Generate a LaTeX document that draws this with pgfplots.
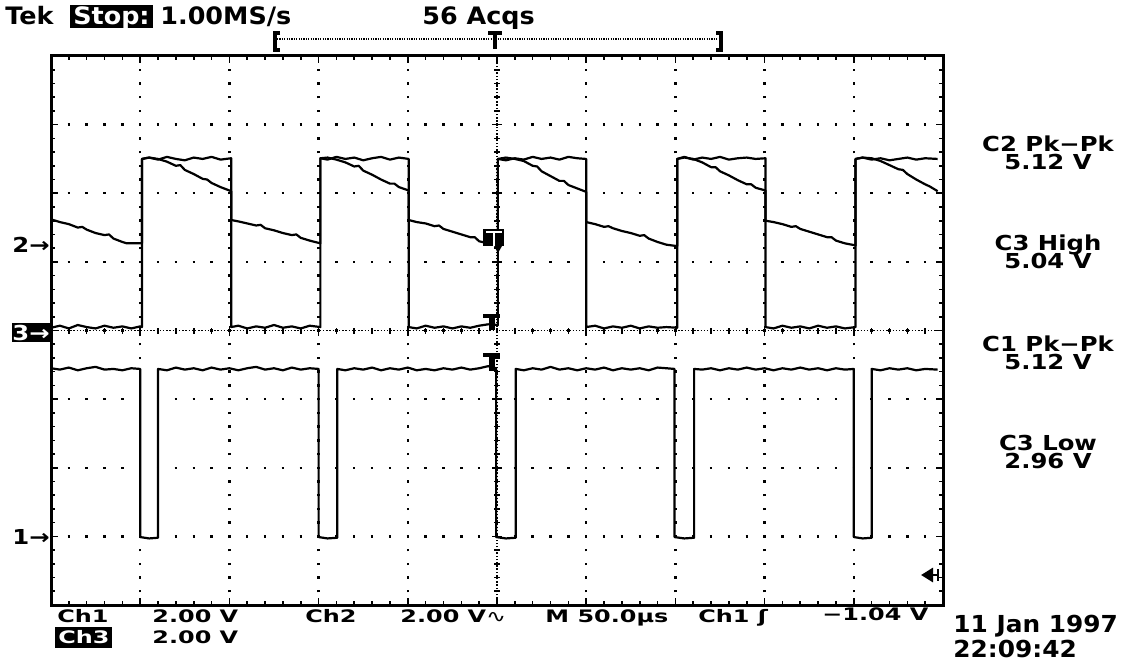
\documentclass[border=0pt]{standalone}
\usepackage{pgfplots}
\pgfplotsset{compat=1.18}
\usepackage{fontspec}
\setmainfont{DejaVu Sans}
\newfontfamily\fbot{DejaVu Sans}[FakeStretch=1.39]
\newfontfamily\fright{DejaVu Sans}[FakeStretch=1.18]
\newfontfamily\fdate{DejaVu Sans}[FakeStretch=1.06]
\newfontfamily\ftop{DejaVu Sans}[FakeStretch=1.06]
\newcommand\TT{\ftop\fontsize{12}{14}\selectfont\bfseries}
\newcommand\RT{\fright\fontsize{10.3}{12}\selectfont\bfseries}
\newcommand\BT{\fbot\fontsize{8.6}{10}\selectfont\bfseries}
\newcommand\DT{\fdate\fontsize{11.7}{13}\selectfont\bfseries}
\usetikzlibrary{arrows.meta}
\pgfplotsset{trace/.style={black, line width=1.1pt, line join=round, mark=none}}
\begin{document}
\begin{tikzpicture}
\useasboundingbox (-25.5pt,-30pt) rectangle (539pt,302.5pt);
\begin{axis}[
  scale only axis, width=446pt, height=274.5pt,
  xmin=0, xmax=10, ymin=-4, ymax=4,
  xtick={0,...,10}, ytick={-4,...,4},
  minor x tick num=4, minor y tick num=4,
  xticklabels={}, yticklabels={},
  tick align=inside, major tick length=3.5pt, minor tick length=2pt,
  every tick/.style={black, line width=0.8pt},
  grid=major,
  x grid style={black, line width=1.2pt, dash pattern=on 1.2pt off 5.6625pt, dash phase=0.6pt},
  y grid style={black, line width=1.2pt, dash pattern=on 1.2pt off 7.72pt, dash phase=0.6pt},
  axis line style={line width=1.5pt},
]
% Channel 3
\addplot[trace] coordinates {
(0,0.04)(0.1,0.07)(0.2,0.03)(0.3,0.08)(0.4,0.05)(0.5,0.03)(0.6,0.07)(0.7,0.04)(0.8,0.06)(0.9,0.03)(1.0,0.06)(1.02,0.05)
(1.02,2.50)(1.1,2.52)(1.2,2.49)(1.3,2.53)(1.4,2.50)(1.5,2.48)(1.6,2.52)(1.7,2.50)(1.8,2.53)(1.9,2.49)(2.02,2.51)
(2.02,0.05)(2.1,0.07)(2.2,0.03)(2.3,0.06)(2.4,0.04)(2.5,0.08)(2.6,0.04)(2.7,0.06)(2.8,0.03)(2.9,0.07)(3.02,0.05)
(3.02,2.51)(3.1,2.49)(3.2,2.53)(3.3,2.50)(3.4,2.52)(3.5,2.48)(3.6,2.51)(3.7,2.53)(3.8,2.49)(3.9,2.52)(4.01,2.50)
(4.01,0.05)(4.1,0.03)(4.2,0.07)(4.3,0.04)(4.4,0.06)(4.5,0.03)(4.6,0.06)(4.7,0.04)(4.8,0.07)(4.9,0.09)(5.01,0.08)
(5.01,2.50)(5.1,2.48)(5.2,2.51)(5.3,2.49)(5.4,2.53)(5.5,2.50)(5.6,2.52)(5.7,2.49)(5.8,2.53)(5.9,2.51)(6.0,2.50)
(6.0,0.05)(6.1,0.07)(6.2,0.03)(6.3,0.06)(6.4,0.04)(6.5,0.07)(6.6,0.03)(6.7,0.06)(6.8,0.04)(6.9,0.05)(7.02,0.04)
(7.02,2.50)(7.1,2.53)(7.2,2.49)(7.3,2.52)(7.4,2.50)(7.5,2.53)(7.6,2.49)(7.7,2.51)(7.8,2.52)(7.9,2.50)(8.01,2.51)
(8.01,0.05)(8.1,0.03)(8.2,0.07)(8.3,0.04)(8.4,0.06)(8.5,0.03)(8.6,0.07)(8.7,0.04)(8.8,0.06)(8.9,0.03)(9.02,0.05)
(9.02,2.50)(9.1,2.52)(9.2,2.49)(9.3,2.51)(9.4,2.48)(9.5,2.50)(9.6,2.52)(9.7,2.49)(9.8,2.51)(9.94,2.50)
};
% Channel 2
\addplot[trace] coordinates {
(0,1.62)(0.05,1.60)(0.1,1.58)(0.2,1.55)(0.3,1.50)(0.35,1.51)(0.4,1.47)(0.5,1.42)(0.6,1.39)(0.65,1.40)(0.7,1.34)(0.8,1.29)(0.85,1.27)(1.02,1.27)
(1.02,2.50)(1.1,2.52)(1.2,2.50)(1.3,2.46)(1.4,2.40)(1.45,2.41)(1.5,2.34)(1.6,2.28)(1.7,2.21)(1.75,2.20)(1.8,2.15)(1.9,2.09)(2.02,2.03)
(2.02,1.61)(2.1,1.59)(2.2,1.56)(2.3,1.53)(2.35,1.54)(2.4,1.49)(2.5,1.46)(2.6,1.42)(2.7,1.39)(2.75,1.40)(2.8,1.35)(2.9,1.31)(3.02,1.27)
(3.02,2.51)(3.1,2.52)(3.2,2.49)(3.3,2.45)(3.4,2.39)(3.45,2.40)(3.5,2.33)(3.6,2.27)(3.7,2.20)(3.8,2.14)(3.85,2.14)(3.9,2.09)(4.01,2.04)
(4.01,1.61)(4.1,1.58)(4.2,1.56)(4.3,1.52)(4.35,1.53)(4.4,1.48)(4.5,1.44)(4.6,1.40)(4.7,1.36)(4.75,1.36)(4.8,1.30)(4.9,1.27)(5.01,1.26)
(5.01,2.50)(5.1,2.52)(5.2,2.50)(5.3,2.47)(5.4,2.40)(5.45,2.39)(5.5,2.32)(5.6,2.25)(5.7,2.18)(5.75,2.18)(5.8,2.12)(5.9,2.07)(6.0,2.02)
(6.0,1.58)(6.1,1.55)(6.2,1.51)(6.25,1.52)(6.3,1.49)(6.4,1.45)(6.5,1.42)(6.6,1.38)(6.65,1.39)(6.7,1.34)(6.8,1.29)(6.9,1.25)(7.02,1.23)
(7.02,2.50)(7.1,2.52)(7.2,2.50)(7.3,2.45)(7.4,2.38)(7.45,2.38)(7.5,2.32)(7.6,2.26)(7.7,2.19)(7.8,2.13)(7.85,2.13)(7.9,2.08)(8.01,2.04)
(8.01,1.60)(8.1,1.58)(8.2,1.55)(8.3,1.51)(8.35,1.52)(8.4,1.48)(8.5,1.44)(8.6,1.40)(8.7,1.36)(8.75,1.36)(8.8,1.31)(8.9,1.27)(9.02,1.24)
(9.02,2.50)(9.1,2.52)(9.2,2.51)(9.3,2.47)(9.4,2.41)(9.5,2.35)(9.55,2.34)(9.6,2.28)(9.7,2.20)(9.8,2.13)(9.85,2.10)(9.94,2.03)
};
% Channel 1
\addplot[trace] coordinates {
(0,-0.55)(0.1,-0.57)(0.2,-0.54)(0.3,-0.58)(0.4,-0.55)(0.5,-0.53)(0.6,-0.57)(0.7,-0.56)(0.8,-0.58)(0.9,-0.55)(1.0,-0.56)
(1.0,-3.01)(1.1,-3.03)(1.2,-3.02)
(1.2,-0.56)(1.3,-0.58)(1.4,-0.54)(1.5,-0.57)(1.6,-0.55)(1.7,-0.58)(1.8,-0.54)(1.9,-0.57)(2.0,-0.55)(2.1,-0.58)(2.2,-0.55)(2.3,-0.53)(2.4,-0.57)(2.5,-0.55)(2.6,-0.58)(2.7,-0.54)(2.8,-0.57)(2.9,-0.55)(3.0,-0.56)
(3.0,-3.01)(3.1,-3.03)(3.21,-3.02)
(3.21,-0.56)(3.3,-0.58)(3.4,-0.55)(3.5,-0.57)(3.6,-0.54)(3.7,-0.58)(3.8,-0.55)(3.9,-0.57)(4.0,-0.54)(4.1,-0.58)(4.2,-0.56)(4.3,-0.58)(4.4,-0.55)(4.5,-0.57)(4.6,-0.54)(4.7,-0.57)(4.8,-0.55)(4.9,-0.52)(4.99,-0.55)
(4.99,-3.01)(5.1,-3.03)(5.21,-3.02)
(5.21,-0.56)(5.3,-0.58)(5.4,-0.55)(5.5,-0.57)(5.6,-0.53)(5.7,-0.57)(5.8,-0.55)(5.9,-0.58)(6.0,-0.55)(6.1,-0.57)(6.2,-0.54)(6.3,-0.58)(6.4,-0.55)(6.5,-0.57)(6.6,-0.55)(6.7,-0.58)(6.8,-0.54)(6.9,-0.55)(6.99,-0.56)
(6.99,-3.01)(7.1,-3.03)(7.21,-3.02)
(7.21,-0.56)(7.3,-0.57)(7.4,-0.55)(7.5,-0.58)(7.6,-0.55)(7.7,-0.57)(7.8,-0.54)(7.9,-0.57)(8.0,-0.55)(8.1,-0.58)(8.2,-0.55)(8.3,-0.57)(8.4,-0.54)(8.5,-0.57)(8.6,-0.55)(8.7,-0.58)(8.8,-0.55)(8.9,-0.57)(9.0,-0.56)
(9.0,-3.01)(9.1,-3.03)(9.2,-3.02)
(9.2,-0.56)(9.3,-0.58)(9.4,-0.55)(9.5,-0.57)(9.6,-0.55)(9.7,-0.58)(9.8,-0.56)(9.94,-0.57)
};
\end{axis}
% centre crosshair graticule
\begin{axis}[
  scale only axis, width=446pt, height=274.5pt,
  xmin=-5, xmax=5, ymin=-4, ymax=4,
  axis lines=middle,
  axis line style={-, black, line width=0.7pt, dash pattern=on 0.7pt off 0.9pt},
  xtick={-5,...,5}, ytick={-4,...,4},
  minor x tick num=4, minor y tick num=4,
  xticklabels={}, yticklabels={},
  tick align=center, major tick length=5pt, minor tick length=3pt,
  every tick/.style={black, line width=0.8pt},
]
\end{axis}
\begin{scope}[x=0.5pt, y=-0.5pt, shift={(-25.5pt,302.5pt)}]
% top line
\node[anchor=base west, inner sep=0] at (5,25) {\TT Tek};
\fill (70,5) rectangle (153,28);
\node[anchor=base, inner sep=0, white] at (111.5,25) {\TT Stop:};
\node[anchor=base west, inner sep=0] at (160,25) {\TT 1.00MS/s};
\node[anchor=base west, inner sep=0] at (422,25) {\TT 56 Acqs};
% record bracket
\draw[line width=1.6pt] (280,33) -- (275,33) -- (275,50) -- (280,50);
\draw[line width=1.6pt] (716,33) -- (721,33) -- (721,50) -- (716,50);
\draw[line width=0.8pt, dash pattern=on 0.6pt off 0.6pt] (277,39) -- (719,39);
\draw[line width=1.6pt] (488,33) -- (502,33) (495,33) -- (495,49);
% left ground markers
\node[inner sep=0] at (31,245) {\RT 2→};
\fill (12,323) rectangle (50,342);
\node[inner sep=0, white] at (31,332.5) {\RT 3→};
\node[inner sep=0] at (31,537) {\RT 1→};
% centre markers
\fill (483,229) rectangle (504,246);
\fill[white] (485.5,231.5) rectangle (501.5,233.5);
\fill[white] (492.5,233.5) rectangle (494.5,246);
\fill (494,246) -- (502,246) -- (498,253) -- cycle;
\draw[line width=1.6pt] (483,316) -- (500,316);
\draw[line width=2.6pt] (492,316) -- (492,330);
\draw[line width=1.6pt] (483,355) -- (500,355);
\draw[line width=2.6pt] (492,355) -- (492,371);
% trigger level arrow
\draw[line width=1.4pt, -{Triangle[length=6pt,width=7pt]}] (938,575) -- (921,575);
\draw[line width=1.2pt] (938,569) -- (938,581);
% right readouts
\node[anchor=base, inner sep=0] at (1048,152) {\RT C2 Pk−Pk};
\node[anchor=base, inner sep=0] at (1048,170) {\RT 5.12 V};
\node[anchor=base, inner sep=0] at (1048,250) {\RT C3 High};
\node[anchor=base, inner sep=0] at (1048,269) {\RT 5.04 V};
\node[anchor=base, inner sep=0] at (1048,351) {\RT C1 Pk−Pk};
\node[anchor=base, inner sep=0] at (1048,369) {\RT 5.12 V};
\node[anchor=base, inner sep=0] at (1048,450) {\RT C3 Low};
\node[anchor=base, inner sep=0] at (1048,468) {\RT 2.96 V};
% bottom readouts
\node[anchor=base west, inner sep=0] at (57,622) {\BT Ch1};
\node[anchor=base west, inner sep=0] at (152,622) {\BT 2.00 V};
\node[anchor=base west, inner sep=0] at (305,622) {\BT Ch2};
\node[anchor=base west, inner sep=0] at (400,622) {\BT 2.00 V{\mdseries ∿}};
\node[anchor=base west, inner sep=0] at (545,622) {\BT M 50.0µs};
\node[anchor=base west, inner sep=0] at (698,622) {\BT Ch1 ʃ};
\node[anchor=base west, inner sep=0] at (822,620) {\BT −1.04 V};
\fill (55,627) rectangle (112,648);
\node[anchor=base west, inner sep=0, white] at (58,643) {\BT Ch3};
\node[anchor=base west, inner sep=0] at (152,643) {\BT 2.00 V};
\node[anchor=base west, inner sep=0] at (953,632) {\DT 11 Jan 1997};
\node[anchor=base west, inner sep=0] at (953,657) {\DT 22:09:42};
\end{scope}
\end{tikzpicture}
\end{document}
